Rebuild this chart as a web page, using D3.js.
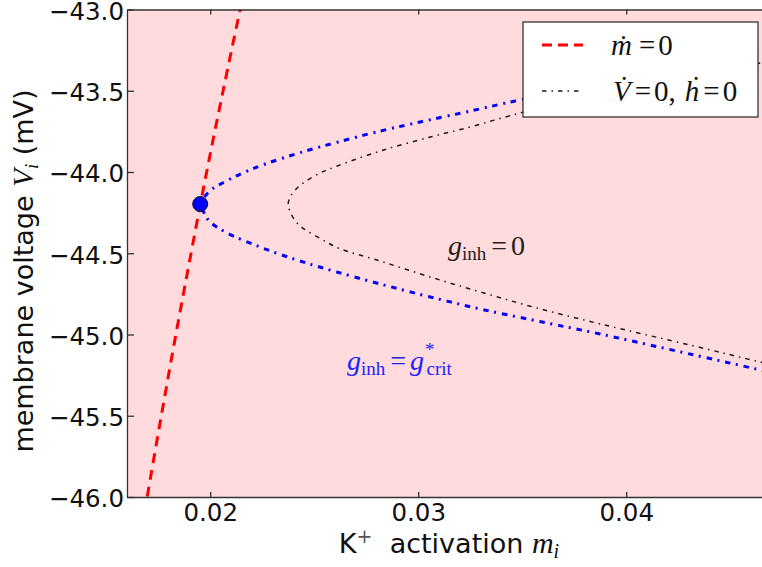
<!DOCTYPE html>
<html>
<head>
<meta charset="utf-8">
<script src="https://d3js.org/d3.v7.min.js"></script>
<style>
body { margin: 0; background: #fff; }
svg { display: block; }
.axis text { font-family: 'DejaVu Sans', sans-serif; font-size: 24.5px; fill: #111; }
.axis path, .axis line { stroke: #333; stroke-width: 1.3; }
.label { font-family: 'DejaVu Sans', sans-serif; font-size: 27px; fill: #111; }
.math { font-family: 'Liberation Serif', 'DejaVu Serif', serif; }
</style>
</head>
<body>
<div id="chart"></div>
<script>
// ticks
var xTicks = [0.02, 0.03, 0.04];
var xTickLabels = ['0.02', '0.03', '0.04'];
var yTicks = [-46, -45.5, -45, -44.5, -44, -43.5, -43];
var yTickLabels = ['\u221246.0', '\u221245.5', '\u221245.0', '\u221244.5', '\u221244.0', '\u221243.5', '\u221243.0'];

// m-dot = 0 nullcline
var redV = [-46.1, -46.0, -45.5, -45.0, -44.5, -44.0, -43.5, -43.0, -42.9];
var redM = [0.01684, 0.01697, 0.01765, 0.01835, 0.01908, 0.01983, 0.02062, 0.02144, 0.02161];

// V-dot = 0, h-dot = 0 at g_inh = g*_crit (upper branch -> tip -> lower branch)
var critM = [0.046346, 0.041154, 0.036827, 0.034663, 0.032500, 0.030096, 0.028173, 0.026154, 0.024423, 0.022644, 0.021779, 0.020962, 0.020096, 0.019760, 0.019519,
             0.019712, 0.019952, 0.020721, 0.022404, 0.024183, 0.025913, 0.028173, 0.030577, 0.032981, 0.035962, 0.038750, 0.043269, 0.046442, 0.048365];
var critV = [-43.268, -43.385, -43.508, -43.563, -43.625, -43.692, -43.748, -43.815, -43.877, -43.951, -43.994, -44.043, -44.105, -44.148, -44.197,
             -44.252, -44.302, -44.369, -44.462, -44.542, -44.609, -44.689, -44.769, -44.843, -44.923, -44.997, -45.126, -45.218, -45.274];

// V-dot = 0, h-dot = 0 at g_inh = 0
var zeroM = [0.046442, 0.041154, 0.035865, 0.034183, 0.032500, 0.030577, 0.028173, 0.026106, 0.025288, 0.024471, 0.024087, 0.023846, 0.023750,
             0.023846, 0.024135, 0.024519, 0.025337, 0.026154, 0.028173, 0.030577, 0.032981, 0.035529, 0.038750, 0.043269, 0.046442, 0.048365];
var zeroV = [-43.329, -43.483, -43.606, -43.662, -43.723, -43.785, -43.871, -43.963, -44.006, -44.068, -44.111, -44.154, -44.197,
             -44.246, -44.308, -44.351, -44.412, -44.468, -44.548, -44.646, -44.738, -44.831, -44.935, -45.071, -45.169, -45.225];

// saddle-node point
var pointM = [0.01952];
var pointV = [-44.197];

var width = 762, height = 567;
var svg = d3.select('#chart').append('svg').attr('width', width).attr('height', height);

var x = d3.scaleLinear().domain([0.016, 0.05]).range([127, 834.2]);
var y = d3.scaleLinear().domain([-46, -43]).range([497, 9.5]);

svg.append('clipPath').attr('id', 'plotclip')
    .append('rect')
    .attr('x', x(0.016)).attr('y', y(-43))
    .attr('width', x(0.05) - x(0.016)).attr('height', y(-46) - y(-43));

svg.append('rect')
    .attr('x', x(0.016)).attr('y', y(-43))
    .attr('width', x(0.05) - x(0.016)).attr('height', y(-46) - y(-43))
    .attr('fill', '#ffdbde');

var plot = svg.append('g').attr('clip-path', 'url(#plotclip)');

var line = d3.line().x(d => x(d[0])).y(d => y(d[1])).curve(d3.curveCatmullRom);

plot.append('path')
    .datum(zeroM.map((m, i) => [m, zeroV[i]]))
    .attr('d', line)
    .attr('fill', 'none').attr('stroke', '#1a1a1a').attr('stroke-width', 1.5)
    .attr('stroke-dasharray', '4.5,5,1.5,5');

plot.append('path')
    .datum(critM.map((m, i) => [m, critV[i]]))
    .attr('d', line)
    .attr('fill', 'none').attr('stroke', '#0000ff').attr('stroke-width', 3)
    .attr('stroke-dasharray', '5.5,5.5,2,6');

plot.append('path')
    .datum(redM.map((m, i) => [m, redV[i]]))
    .attr('d', line)
    .attr('fill', 'none').attr('stroke', '#ff0000').attr('stroke-width', 3)
    .attr('stroke-dasharray', '10,7');

plot.selectAll('circle.pt')
    .data(pointM.map((m, i) => [m, pointV[i]]))
    .enter().append('circle')
    .attr('class', 'pt')
    .attr('cx', d => x(d[0])).attr('cy', d => y(d[1]))
    .attr('r', 7.5)
    .attr('fill', '#0000ff').attr('stroke', '#111').attr('stroke-width', 1);

// axes, ticks pointing inward
svg.append('g').attr('class', 'axis')
    .attr('transform', `translate(0,${y(-46)})`)
    .call(d3.axisBottom(x).tickValues(xTicks).tickFormat((d, i) => xTickLabels[i]).tickSizeInner(-5).tickSizeOuter(0).tickPadding(7));

svg.append('g').attr('class', 'axis')
    .attr('transform', `translate(0,${y(-43)})`)
    .call(d3.axisTop(x).tickValues(xTicks).tickFormat('').tickSizeInner(-5).tickSizeOuter(0));

var yAxis = svg.append('g').attr('class', 'axis')
    .attr('transform', `translate(${x(0.016)},0)`)
    .call(d3.axisLeft(y).tickValues(yTicks).tickFormat((d, i) => yTickLabels[i]).tickSizeInner(-7).tickSizeOuter(0).tickPadding(3));
yAxis.selectAll('text').attr('dy', '0.4em');

// axis labels
var xl = svg.append('text').attr('class', 'label')
    .attr('x', 449).attr('y', 553).attr('text-anchor', 'middle');
xl.append('tspan').text('K');
xl.append('tspan').attr('dy', -10).attr('font-size', 19).attr('fill', '#555').text('+');
xl.append('tspan').attr('dy', 10).text('\u00a0 activation ');
xl.append('tspan').attr('class', 'math').attr('font-style', 'italic').attr('font-size', 30).text('m');
xl.append('tspan').attr('class', 'math').attr('font-style', 'italic').attr('font-size', 20).attr('dy', 5).text('i');

var yl = svg.append('text').attr('class', 'label')
    .attr('transform', 'translate(33,271) rotate(-90)').attr('text-anchor', 'middle');
yl.append('tspan').text('membrane voltage ');
yl.append('tspan').attr('class', 'math').attr('font-style', 'italic').attr('font-size', 29).text('V');
yl.append('tspan').attr('class', 'math').attr('font-style', 'italic').attr('font-size', 19).attr('dy', 5).text('i');
yl.append('tspan').attr('dy', -5).text(' (mV)');

// annotations
var a1 = svg.append('text').attr('class', 'math').attr('x', 448).attr('y', 255)
    .attr('font-size', 28).attr('fill', '#222');
a1.append('tspan').attr('font-style', 'italic').text('g');
a1.append('tspan').attr('font-size', 19).attr('dy', 5).text('inh');
a1.append('tspan').attr('dy', -5).attr('dx', 5).text('=');
a1.append('tspan').attr('dx', 4).text('0');

var a2 = svg.append('text').attr('class', 'math').attr('x', 347).attr('y', 370)
    .attr('font-size', 28).attr('fill', '#2222ff');
a2.append('tspan').attr('font-style', 'italic').text('g');
a2.append('tspan').attr('font-size', 19).attr('dy', 5).text('inh');
a2.append('tspan').attr('dy', -5).attr('dx', 5).text('=');
a2.append('tspan').attr('font-style', 'italic').attr('dx', 4).text('g');
a2.append('tspan').attr('font-size', 19).attr('dy', -14).attr('dx', 1).text('*');
a2.append('tspan').attr('font-size', 19).attr('dy', 19).attr('dx', -8).text('crit');

// legend
var legend = svg.append('g');
legend.append('rect')
    .attr('x', 523).attr('y', 22).attr('width', 235).attr('height', 95)
    .attr('fill', '#fff').attr('stroke', '#333').attr('stroke-width', 1.3);
legend.append('line').attr('x1', 542).attr('x2', 583).attr('y1', 45).attr('y2', 45)
    .attr('stroke', '#ff0000').attr('stroke-width', 3).attr('stroke-dasharray', '10,6');
legend.append('line').attr('x1', 542).attr('x2', 583).attr('y1', 91).attr('y2', 91)
    .attr('stroke', '#1a1a1a').attr('stroke-width', 1.5).attr('stroke-dasharray', '4.5,5,1.5,5');
var l1 = legend.append('text').attr('class', 'math').attr('x', 611).attr('y', 55)
    .attr('font-size', 29).attr('fill', '#111');
l1.append('tspan').attr('font-style', 'italic').text('\u1e41');
l1.append('tspan').attr('dx', 7).text('=');
l1.append('tspan').attr('dx', 3).text('0');
var l2 = legend.append('text').attr('class', 'math').attr('x', 613).attr('y', 101)
    .attr('font-size', 29).attr('fill', '#111');
l2.append('tspan').attr('font-style', 'italic').text('V\u0307');
l2.append('tspan').attr('dx', 4).text('=');
l2.append('tspan').attr('dx', 3).text('0,');
l2.append('tspan').attr('font-style', 'italic').attr('dx', 9).text('\u1e23');
l2.append('tspan').attr('dx', 4).text('=');
l2.append('tspan').attr('dx', 3).text('0');
</script>
</body>
</html>
